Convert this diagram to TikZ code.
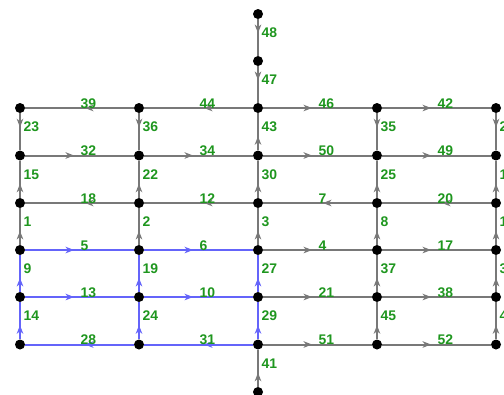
\documentclass[tikz,border=0pt]{standalone}
\usepackage{fontspec}
\setmainfont{Liberation Sans}
\usetikzlibrary{arrows.meta,decorations.markings}
\pgfdeclarelayer{bg}
\pgfsetlayers{bg,main}
\definecolor{lgray}{RGB}{120,120,120}
\definecolor{lblue}{RGB}{100,100,250}
\definecolor{lgreen}{RGB}{30,150,30}
\tikzset{
  dot/.style={circle,fill=black,inner sep=0pt,minimum size=10bp},
  edgeline/.style 2 args={draw=#1,line width=2bp,postaction={decorate},
    decoration={markings,mark=at position #2 with {\arrow[#1]{Stealth[length=8.5bp,width=6.5bp,inset=2.5bp]}}}},
  hedge/.style={edgeline={#1}{0.45}},
  vedge/.style={edgeline={#1}{0.38}},
  lab/.style={anchor=base west,inner sep=0pt,text=lgreen,font=\bfseries\fontsize{14}{14}\selectfont},
  hlab/.style={lab,pos=0.5},
  vlab/.style={lab,pos=0.5,xshift=2.5bp},
}
\begin{document}
\begin{tikzpicture}[x=1bp,y=-1bp]
\useasboundingbox (0,0) rectangle (504,394);
\clip (0,0) rectangle (504,394);
% nodes
\foreach \c/\x in {A/20,B/139,C/258,D/377,E/496}{
  \foreach \r/\y in {0/108,1/155.5,2/203,3/250,4/297,5/344.5}{
    \node[dot] (\c\r) at (\x,\y) {};
  }
}
\node[dot] (Ct1) at (258,14) {};
\node[dot] (Ct2) at (258,61) {};
\node[dot] (Cb) at (258,392) {};
\begin{pgfonlayer}{bg}
% horizontal gray
\foreach \s/\t/\l in {B0/A0/39,C0/B0/44,C0/D0/46,D0/E0/42,A1/B1/32,B1/C1/34,C1/D1/50,D1/E1/49,B2/A2/18,C2/B2/12,D2/C2/7,E2/D2/20,C3/D3/4,D3/E3/17,C4/D4/21,D4/E4/38,C5/D5/51,D5/E5/52}
  \draw[hedge=lgray] (\s) -- node[hlab] {\l} (\t);
% horizontal blue
\foreach \s/\t/\l in {A3/B3/5,B3/C3/6,A4/B4/13,B4/C4/10,B5/A5/28,C5/B5/31}
  \draw[hedge=lblue] (\s) -- node[hlab] {\l} (\t);
% vertical gray
\foreach \s/\t/\l in {A0/A1/23,A2/A1/15,A3/A2/1,B0/B1/36,B2/B1/22,B3/B2/2,Ct1/Ct2/48,Ct2/C0/47,C1/C0/43,C2/C1/30,C3/C2/3,Cb/C5/41,D0/D1/35,D2/D1/25,D3/D2/8,D4/D3/37,D5/D4/45,E0/E1/26,E2/E1/16,E3/E2/11,E4/E3/33,E5/E4/40}
  \draw[vedge=lgray] (\s) -- node[vlab] {\l} (\t);
% vertical blue
\foreach \s/\t/\l in {A4/A3/9,A5/A4/14,B4/B3/19,B5/B4/24,C4/C3/27,C5/C4/29}
  \draw[vedge=lblue] (\s) -- node[vlab] {\l} (\t);
\end{pgfonlayer}
\end{tikzpicture}
\end{document}
